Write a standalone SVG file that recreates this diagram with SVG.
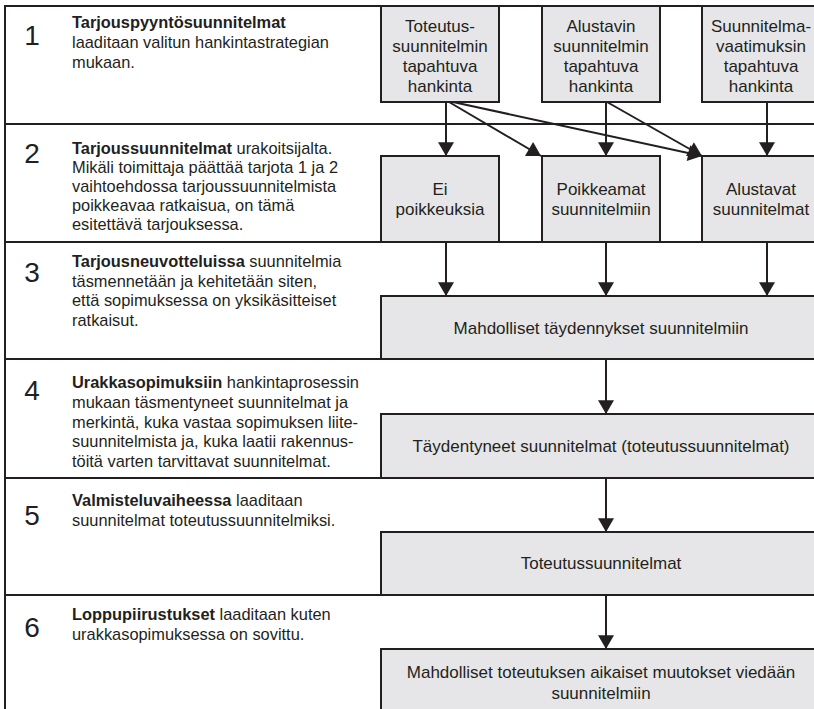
<svg xmlns="http://www.w3.org/2000/svg" width="814" height="709" viewBox="0 0 814 709">
<style>
.frame line{stroke:#231f20;stroke-width:2}
.box rect{fill:#e6e6e8;stroke:#231f20;stroke-width:2}
text{font-family:"Liberation Sans",Arial,Helvetica,sans-serif;fill:#231f20}
.bt{font-size:17px;text-anchor:middle}
.lt{font-size:16.4px}
.num{font-size:28px;text-anchor:middle}
.b{font-weight:bold}
.conn line{stroke:#231f20;stroke-width:2}
</style>
<defs>
<marker id="ah" markerUnits="userSpaceOnUse" markerWidth="16" markerHeight="16" viewBox="0 0 13 15" refX="13" refY="7.5" orient="auto"><path d="M0,0 L13,7.5 L0,15 Z" fill="#231f20"/></marker>
</defs>
<rect width="814" height="709" fill="#ffffff"/>
<g class="frame" id="frame">
<line x1="5" y1="5" x2="5" y2="709"/>
<line x1="4" y1="6" x2="814" y2="6"/>
<line x1="4" y1="124" x2="814" y2="124"/>
<line x1="4" y1="242" x2="814" y2="242"/>
<line x1="4" y1="359" x2="814" y2="359"/>
<line x1="4" y1="478" x2="814" y2="478"/>
<line x1="4" y1="595" x2="814" y2="595"/>
</g>
<g id="step1">
<text class="num" x="32" y="45">1</text>
<text class="lt" x="72" y="28"><tspan class="b">Tarjouspyyntösuunnitelmat</tspan></text>
<text class="lt" x="72" y="48">laaditaan valitun hankintastrategian</text>
<text class="lt" x="72" y="68">mukaan.</text>
</g>
<g id="step2">
<text class="num" x="32" y="163">2</text>
<text class="lt" x="72" y="154"><tspan class="b">Tarjoussuunnitelmat</tspan> urakoitsijalta.</text>
<text class="lt" x="72" y="173">Mikäli toimittaja päättää tarjota 1 ja 2</text>
<text class="lt" x="72" y="192">vaihtoehdossa tarjoussuunnitelmista</text>
<text class="lt" x="72" y="211">poikkeavaa ratkaisua, on tämä</text>
<text class="lt" x="72" y="230">esitettävä tarjouksessa.</text>
</g>
<g id="step3">
<text class="num" x="32" y="282">3</text>
<text class="lt" x="72" y="267"><tspan class="b">Tarjousneuvotteluissa</tspan> suunnitelmia</text>
<text class="lt" x="72" y="287">täsmennetään ja kehitetään siten,</text>
<text class="lt" x="72" y="306">että sopimuksessa on yksikäsitteiset</text>
<text class="lt" x="72" y="326">ratkaisut.</text>
</g>
<g id="step4">
<text class="num" x="32" y="400">4</text>
<text class="lt" x="72" y="388"><tspan class="b">Urakkasopimuksiin</tspan> hankintaprosessin</text>
<text class="lt" x="72" y="408">mukaan täsmentyneet suunnitelmat ja</text>
<text class="lt" x="72" y="428">merkintä, kuka vastaa sopimuksen liite-</text>
<text class="lt" x="72" y="447">suunnitelmista ja, kuka laatii rakennus-</text>
<text class="lt" x="72" y="467">töitä varten tarvittavat suunnitelmat.</text>
</g>
<g id="step5">
<text class="num" x="32" y="525">5</text>
<text class="lt" x="72" y="506"><tspan class="b">Valmisteluvaiheessa</tspan> laaditaan</text>
<text class="lt" x="72" y="526">suunnitelmat toteutussuunnitelmiksi.</text>
</g>
<g id="step6">
<text class="num" x="32" y="637">6</text>
<text class="lt" x="72" y="620"><tspan class="b">Loppupiirustukset</tspan> laaditaan kuten</text>
<text class="lt" x="72" y="640">urakkasopimuksessa on sovittu.</text>
</g>
<g class="box" id="toteutus-hankinta">
<rect x="381" y="6" width="118" height="96"/>
<text class="bt" x="440" y="32">Toteutus-</text>
<text class="bt" x="440" y="52">suunnitelmin</text>
<text class="bt" x="440" y="72">tapahtuva</text>
<text class="bt" x="440" y="92">hankinta</text>
</g>
<g class="box" id="alustavin-hankinta">
<rect x="542" y="6" width="118" height="96"/>
<text class="bt" x="601" y="32">Alustavin</text>
<text class="bt" x="601" y="52">suunnitelmin</text>
<text class="bt" x="601" y="72">tapahtuva</text>
<text class="bt" x="601" y="92">hankinta</text>
</g>
<g class="box" id="vaatimus-hankinta">
<rect x="702" y="6" width="130" height="96"/>
<text class="bt" x="761" y="32">Suunnitelma-</text>
<text class="bt" x="761" y="52">vaatimuksin</text>
<text class="bt" x="761" y="72">tapahtuva</text>
<text class="bt" x="761" y="92">hankinta</text>
</g>
<g class="box" id="ei-poikkeuksia">
<rect x="381" y="156" width="118" height="86"/>
<text class="bt" x="440" y="195">Ei</text>
<text class="bt" x="440" y="215">poikkeuksia</text>
</g>
<g class="box" id="poikkeamat">
<rect x="542" y="156" width="118" height="86"/>
<text class="bt" x="601" y="195">Poikkeamat</text>
<text class="bt" x="601" y="215">suunnitelmiin</text>
</g>
<g class="box" id="alustavat">
<rect x="702" y="156" width="130" height="86"/>
<text class="bt" x="761" y="195">Alustavat</text>
<text class="bt" x="761" y="215">suunnitelmat</text>
</g>
<g class="box" id="taydennykset">
<rect x="381" y="296" width="450" height="63"/>
<text class="bt" x="601" y="334">Mahdolliset täydennykset suunnitelmiin</text>
</g>
<g class="box" id="taydentyneet">
<rect x="381" y="414" width="450" height="64"/>
<text class="bt" x="601" y="452">Täydentyneet suunnitelmat (toteutussuunnitelmat)</text>
</g>
<g class="box" id="toteutussuunnitelmat">
<rect x="381" y="532" width="450" height="63"/>
<text class="bt" x="601" y="569">Toteutussuunnitelmat</text>
</g>
<g class="box" id="muutokset">
<rect x="381" y="649" width="450" height="80"/>
<text class="bt" x="601" y="678">Mahdolliset toteutuksen aikaiset muutokset viedään</text>
<text class="bt" x="601" y="699">suunnitelmiin</text>
</g>
<g class="conn" id="connectors">
<line x1="446" y1="102" x2="446" y2="156" marker-end="url(#ah)"/>
<line x1="606" y1="102" x2="606" y2="156" marker-end="url(#ah)"/>
<line x1="767" y1="102" x2="767" y2="156" marker-end="url(#ah)"/>
<line x1="449" y1="102" x2="541" y2="156" marker-end="url(#ah)"/>
<line x1="453" y1="102" x2="702" y2="156" marker-end="url(#ah)"/>
<line x1="607" y1="102" x2="702" y2="156" marker-end="url(#ah)"/>
<line x1="446" y1="242" x2="446" y2="296" marker-end="url(#ah)"/>
<line x1="606" y1="242" x2="606" y2="296" marker-end="url(#ah)"/>
<line x1="767" y1="242" x2="767" y2="296" marker-end="url(#ah)"/>
<line x1="606" y1="359" x2="606" y2="414" marker-end="url(#ah)"/>
<line x1="606" y1="478" x2="606" y2="532" marker-end="url(#ah)"/>
<line x1="606" y1="595" x2="606" y2="649" marker-end="url(#ah)"/>
</g>
</svg>
